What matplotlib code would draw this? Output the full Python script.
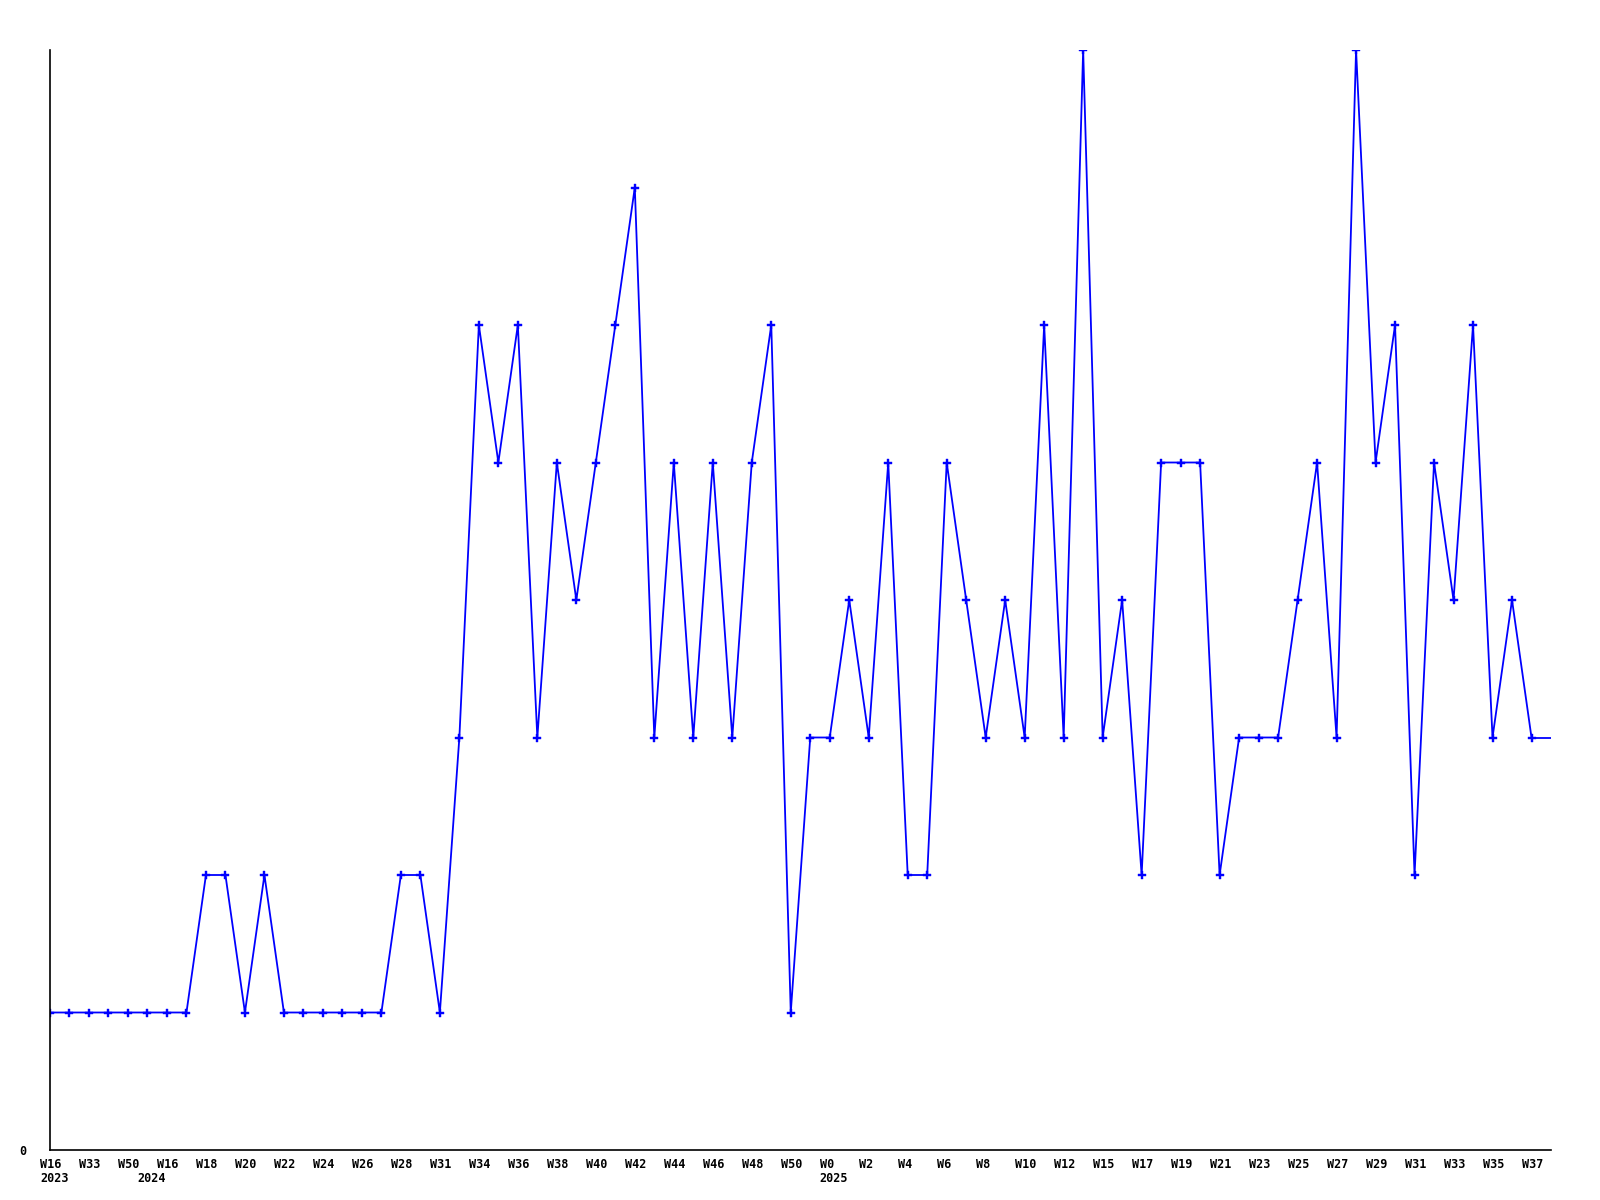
import matplotlib
matplotlib.use("Agg")
import matplotlib.pyplot as plt

# weekly counts, one per point
counts = [1, 1, 1, 1, 1, 1, 1, 1, 2, 2,
          1, 2, 1, 1, 1, 1, 1, 1, 2, 2,
          1, 3, 6, 5, 6, 3, 5, 4, 5, 6,
          7, 3, 5, 3, 5, 3, 5, 6, 1, 3,
          3, 4, 3, 5, 2, 2, 5, 4, 3, 4,
          3, 6, 3, 8, 3, 4, 2, 5, 5, 5,
          2, 3, 3, 3, 4, 5, 3, 8, 5, 6,
          2, 5, 4, 6, 3, 4, 3]

# labels on every second point
week_labels = ["W16", "W33", "W50", "W16", "W18", "W20", "W22", "W24", "W26", "W28",
               "W31", "W34", "W36", "W38", "W40", "W42", "W44", "W46", "W48", "W50",
               "W0", "W2", "W4", "W6", "W8", "W10", "W12", "W15", "W17", "W19",
               "W21", "W23", "W25", "W27", "W29", "W31", "W33", "W35", "W37"]
# year marks, keyed by point index
year_marks = {0: "2023", 5: "2024", 40: "2025"}

x = list(range(len(counts)))
ticks = x[::2]

fig = plt.figure(figsize=(16, 12), dpi=100)
ax = fig.add_axes([50 / 1600, 50 / 1200, 1501 / 1600, 1100 / 1200])

ax.plot(x, counts, color="#0000ff", lw=1.3, marker="P", ms=5.5, mew=0.3, mec="#0000ff")
# line runs on flat to the right edge
ax.plot([x[-1], len(counts)], [counts[-1], counts[-1]], color="#0000ff", lw=1.3)

ax.set_xlim(0, len(counts))
ax.set_ylim(0, max(counts))

for s in ["top", "right"]:
    ax.spines[s].set_visible(False)
for s in ["left", "bottom"]:
    ax.spines[s].set_linewidth(1.2)
    ax.spines[s].set_color("black")

font = dict(fontfamily="DejaVu Sans Mono", fontweight="bold", fontsize=8.5)

ax.set_xticks(ticks)
ax.set_xticklabels([])
ax.tick_params(axis="x", length=0)
for t, w in zip(ticks, week_labels):
    ax.annotate(w, xy=(t, 0), xycoords=("data", "axes fraction"),
                xytext=(-10, -8), textcoords="offset pixels",
                ha="left", va="top", **font)
for p, yr in year_marks.items():
    ax.annotate(yr, xy=(p, 0), xycoords=("data", "axes fraction"),
                xytext=(-10, -22), textcoords="offset pixels",
                ha="left", va="top", **font)

ax.set_yticks([0])
ax.set_yticklabels(["0"], **font)
ax.tick_params(axis="y", length=0, pad=17)

fig.savefig("out.png", dpi=100, facecolor="white")
